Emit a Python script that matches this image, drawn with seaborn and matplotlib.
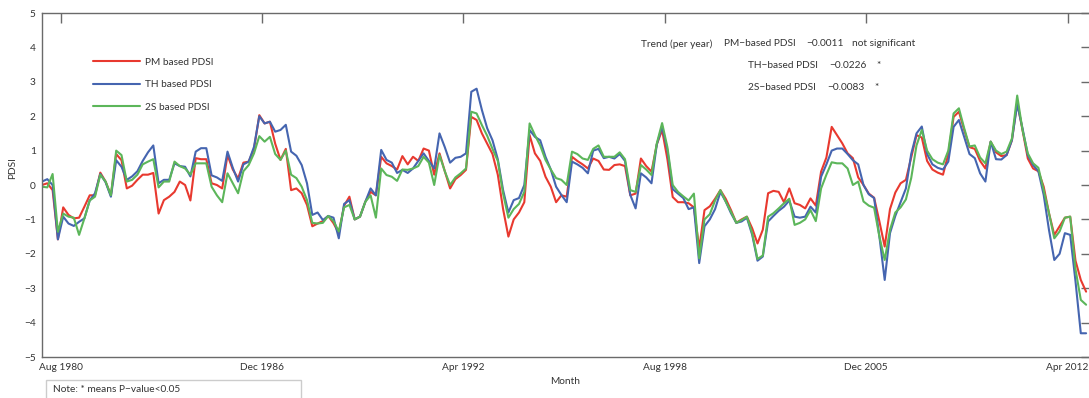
import numpy as np
import pandas as pd
import matplotlib
matplotlib.use("Agg")
import matplotlib.pyplot as plt
from matplotlib.lines import Line2D
from matplotlib.patches import Rectangle
import seaborn as sns

# Month index (bi-monthly samples, 0 = Jan 1980)
month = np.arange(0, 396, 2)

pm_pdsi = [
    0.0, 0.05, -0.15, -1.58, -0.65, -0.87, -0.97, -0.95, -0.63, -0.3,
    -0.3, 0.36, 0.1, -0.3, 0.9, 0.72, -0.1, -0.02, 0.15, 0.3,
    0.3, 0.35, -0.83, -0.44, -0.34, -0.2, 0.1, 0.0, -0.45, 0.78,
    0.75, 0.75, 0.05, 0.0, -0.1, 0.87, 0.45, 0.19, 0.65, 0.68,
    1.05, 2.03, 1.79, 1.84, 1.2, 0.73, 1.05, -0.15, -0.1, -0.24,
    -0.58, -1.2, -1.12, -1.05, -0.9, -1.11, -1.4, -0.6, -0.34, -1.0,
    -0.92, -0.49, -0.2, -0.3, 0.82, 0.63, 0.55, 0.45, 0.84, 0.6,
    0.82, 0.7, 1.06, 1.0, 0.3, 0.92, 0.4, -0.1, 0.17, 0.29,
    0.44, 1.98, 1.89, 1.5, 1.2, 0.9, 0.3, -0.7, -1.5, -1.0,
    -0.8, -0.5, 1.45, 0.92, 0.7, 0.24, -0.05, -0.5, -0.3, -0.34,
    0.82, 0.7, 0.6, 0.48, 0.77, 0.7, 0.45, 0.44, 0.58, 0.6,
    0.55, -0.3, -0.25, 0.77, 0.55, 0.39, 1.18, 1.6, 0.75, -0.35,
    -0.5, -0.5, -0.53, -0.65, -1.84, -0.73, -0.62, -0.4, -0.15, -0.4,
    -0.73, -1.1, -1.0, -0.92, -1.26, -1.7, -1.3, -0.24, -0.17, -0.2,
    -0.5, -0.1, -0.53, -0.58, -0.68, -0.39, -0.6, 0.39, 0.8, 1.69,
    1.45, 1.21, 0.92, 0.78, 0.22, 0.0, -0.25, -0.37, -1.06, -1.79,
    -0.7, -0.22, 0.05, 0.15, 0.8, 1.45, 1.38, 0.7, 0.45, 0.36,
    0.3, 0.9, 1.98, 2.13, 1.6, 1.1, 1.05, 0.7, 0.48, 1.26,
    0.95, 0.84, 0.87, 1.3, 2.4, 1.6, 0.77, 0.48, 0.4, -0.05,
    -0.82, -1.45, -1.2, -0.95, -0.92, -2.2, -2.76, -3.1,
]

th_pdsi = [
    0.1, 0.17, 0.0, -1.58, -0.92, -1.12, -1.19, -1.07, -0.97, -0.45,
    -0.24, 0.32, 0.08, -0.34, 0.72, 0.53, 0.15, 0.25, 0.4, 0.7,
    0.95, 1.15, 0.05, 0.15, 0.15, 0.63, 0.55, 0.53, 0.25, 0.97,
    1.07, 1.07, 0.28, 0.22, 0.12, 0.97, 0.5, 0.1, 0.6, 0.68,
    1.11, 2.0, 1.79, 1.84, 1.55, 1.6, 1.75, 0.97, 0.85, 0.58,
    0.05, -0.87, -0.8, -1.02, -0.9, -0.95, -1.55, -0.55, -0.44, -1.0,
    -0.92, -0.49, -0.1, -0.3, 1.02, 0.73, 0.65, 0.35, 0.44, 0.35,
    0.48, 0.7, 0.92, 0.7, 0.48, 1.5, 1.1, 0.65, 0.79, 0.82,
    0.92, 2.71, 2.8, 2.18, 1.65, 1.3, 0.75, -0.15, -0.8, -0.44,
    -0.38, 0.0, 1.6, 1.4, 1.3, 0.82, 0.45, -0.05, -0.29, -0.5,
    0.68, 0.6, 0.5, 0.34, 1.0, 1.05, 0.78, 0.82, 0.77, 0.9,
    0.7, -0.29, -0.68, 0.34, 0.22, 0.05, 1.18, 1.7, 1.02, -0.12,
    -0.25, -0.38, -0.7, -0.65, -2.27, -1.2, -1.0, -0.7, -0.2, -0.48,
    -0.82, -1.1, -1.06, -0.95, -1.45, -2.2, -2.08, -1.06, -0.9, -0.75,
    -0.63, -0.45, -0.92, -0.95, -0.92, -0.63, -0.8, 0.24, 0.6, 1.0,
    1.06, 1.06, 0.9, 0.72, 0.6, 0.0, -0.27, -0.38, -1.5, -2.76,
    -1.4, -0.9, -0.5, -0.1, 0.9, 1.5, 1.7, 0.9, 0.6, 0.5,
    0.45, 0.68, 1.69, 1.89, 1.4, 0.9, 0.78, 0.34, 0.1, 1.26,
    0.75, 0.74, 0.87, 1.3, 2.35, 1.65, 0.87, 0.58, 0.4, -0.29,
    -1.31, -2.18, -2.0, -1.4, -1.45, -2.8, -4.31, -4.31,
]

s2_pdsi = [
    -0.05, -0.07, 0.32, -1.36, -0.83, -0.92, -0.95, -1.45, -0.97, -0.45,
    -0.34, 0.3, 0.1, -0.3, 1.0, 0.87, 0.1, 0.15, 0.3, 0.6,
    0.68, 0.75, -0.07, 0.1, 0.1, 0.68, 0.55, 0.48, 0.3, 0.63,
    0.63, 0.63, -0.05, -0.3, -0.5, 0.34, 0.05, -0.24, 0.4, 0.58,
    0.92, 1.42, 1.26, 1.4, 0.9, 0.73, 1.0, 0.3, 0.2, -0.05,
    -0.44, -1.1, -1.12, -1.1, -0.9, -1.05, -1.35, -0.65, -0.58, -1.0,
    -0.92, -0.49, -0.3, -0.95, 0.48, 0.29, 0.24, 0.12, 0.45, 0.44,
    0.48, 0.55, 0.82, 0.65, 0.0, 0.87, 0.4, 0.0, 0.22, 0.34,
    0.48, 2.13, 2.08, 1.74, 1.43, 1.05, 0.7, -0.25, -0.95, -0.7,
    -0.55, -0.2, 1.79, 1.45, 1.15, 0.73, 0.45, 0.2, 0.15, 0.0,
    0.97, 0.9, 0.77, 0.73, 1.05, 1.15, 0.82, 0.82, 0.82, 0.95,
    0.75, -0.15, -0.2, 0.58, 0.45, 0.29, 1.21, 1.8, 1.1, 0.0,
    -0.2, -0.33, -0.45, -0.25, -2.13, -1.0, -0.85, -0.45, -0.15, -0.48,
    -0.78, -1.1, -1.02, -0.92, -1.4, -2.15, -2.05, -0.92, -0.82, -0.68,
    -0.53, -0.4, -1.16, -1.1, -1.0, -0.73, -1.05, -0.1, 0.3, 0.66,
    0.63, 0.63, 0.48, 0.0, 0.1, -0.48, -0.6, -0.66, -1.5, -2.18,
    -1.3, -0.8, -0.65, -0.42, 0.2, 1.15, 1.6, 1.0, 0.75, 0.65,
    0.6, 1.0, 2.08, 2.23, 1.65, 1.12, 1.15, 0.8, 0.63, 1.26,
    1.0, 0.9, 0.97, 1.35, 2.6, 1.6, 0.92, 0.63, 0.5, -0.15,
    -0.82, -1.55, -1.35, -0.95, -0.92, -2.45, -3.34, -3.48,
]

series_names = ["PM based PDSI", "TH based PDSI", "2S based PDSI"]
series_colors = ["#e8392f", "#4565b0", "#5cb65a"]

tick_months = [7, 83, 159, 235, 311, 387]
tick_labels = ["Aug 1980", "Dec 1986", "Apr 1992", "Aug 1998", "Dec 2005", "Apr 2012"]

trend_rows = [
    ("PM\u2212based PDSI", "\u22120.0011", "not significant"),
    ("TH\u2212based PDSI", "\u22120.0226", "*"),
    ("2S\u2212based PDSI", "\u22120.0083", "*"),
]

df = pd.DataFrame({
    "month": np.concatenate([month] * 3),
    "PDSI": np.concatenate([pm_pdsi, th_pdsi, s2_pdsi]),
    "series": np.repeat(series_names, len(month)),
})

FS = 7.3
sns.set_style("white")
plt.rcParams["font.family"] = ["Lato", "DejaVu Sans"]
plt.rcParams["font.size"] = FS

W, H = 1089, 398
fig = plt.figure(figsize=(W / 100, H / 100), dpi=100)
ax_left, ax_right, ax_top, ax_bot = 42, 1091.4, 13, 357
ax = fig.add_axes([ax_left / W, 1 - ax_bot / H, (ax_right - ax_left) / W, (ax_bot - ax_top) / H])

palette = dict(zip(series_names, series_colors))
sns.lineplot(data=df, x="month", y="PDSI", hue="series", hue_order=series_names,
             palette=palette, linewidth=1.5, ax=ax, legend=False)

ax.set_xlim(0, 396)
ax.set_ylim(-5, 5)
ax.set_yticks(range(-5, 6))
ax.set_xticks(tick_months)
ax.set_xticklabels(tick_labels)
ax.set_xlabel("")
ax.set_ylabel("")

spine_col = "#6a6a6a"
for sp in ax.spines.values():
    sp.set_visible(True)
    sp.set_color(spine_col)
    sp.set_linewidth(1.0)
ax.tick_params(axis="both", direction="in", length=7, width=1.0, color=spine_col,
               labelcolor="#333333", labelsize=FS, top=True, right=True, pad=4.5)


def fx(x):
    return x / W


def fy(y):
    return 1 - y / H


# legend
handles = [Line2D([0], [0], color=c, lw=1.5) for c in series_colors]
fig.legend(handles, series_names, loc="upper left", bbox_to_anchor=(fx(93), fy(57.5)),
           bbox_transform=fig.transFigure, frameon=False, borderpad=0, borderaxespad=0,
           handlelength=4.6, handletextpad=0.5, labelspacing=1.32, fontsize=FS,
           labelcolor="#333333")

# trend annotation
txt = dict(fontsize=FS, color="#333333", va="center", ha="left")
fig.text(fx(641), fy(44), "Trend (per year)", **txt)
row_y = [44, 66, 88]
name_x = [724, 748, 748]
val_x = [806, 829, 827]
flag_x = [852, 876, 874]
for (name, val, flag), y, nx, vx, sx in zip(trend_rows, row_y, name_x, val_x, flag_x):
    fig.text(fx(nx), fy(y), name, **txt)
    fig.text(fx(vx), fy(y), val, **txt)
    fig.text(fx(sx), fy(y), flag, **txt)

# axis titles
fig.text(fx(565), fy(381), "Month", fontsize=FS, color="#333333", ha="center", va="center")
fig.text(fx(13), fy(168), "PDSI", fontsize=FS, color="#333333", ha="center", va="center",
         rotation=90)

# note box
fig.patches.append(Rectangle((fx(46), fy(405)), fx(301) - fx(46), fy(380) - fy(405),
                             transform=fig.transFigure, fill=False,
                             edgecolor="#cccccc", linewidth=1.0))
fig.text(fx(53), fy(390), "Note: * means P\u2212value<0.05", fontsize=FS, color="#333333",
         ha="left", va="center")

fig.savefig("out.png", dpi=100)
